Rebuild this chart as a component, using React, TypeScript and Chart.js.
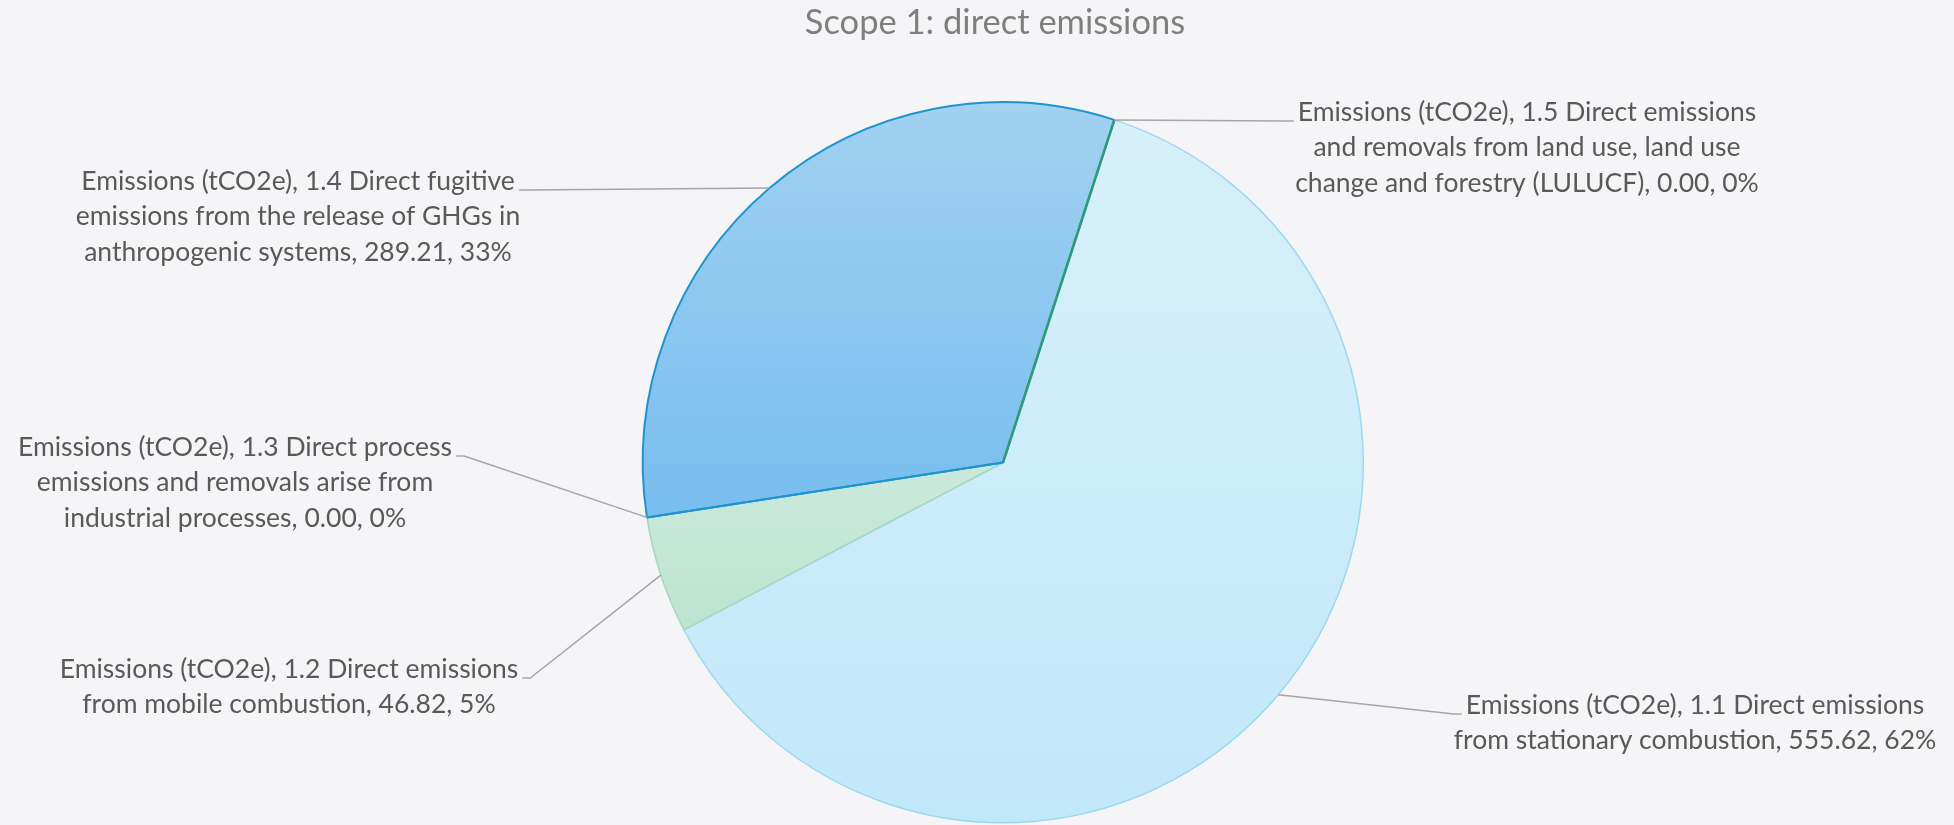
import React, { useEffect, useRef } from "react";
import { Chart, registerables } from "chart.js";

Chart.register(...registerables);

// ---------- data ----------
const TITLE = "Scope 1: direct emissions";
const SERIES_NAME = "Emissions (tCO2e)";
const CATEGORIES = [
  "1.1 Direct emissions from stationary combustion",
  "1.2 Direct emissions from mobile combustion",
  "1.3 Direct process emissions and removals arise from industrial processes",
  "1.4 Direct fugitive emissions from the release of GHGs in anthropogenic systems",
  "1.5 Direct emissions and removals from land use, land use change and forestry (LULUCF)",
];
const VALUES = [555.62, 46.82, 0.0, 289.21, 0.0];
const PERCENT_LABELS = [62, 5, 0, 33, 0];
const FIRST_SLICE_ANGLE = 18;

// ---------- styles ----------
const BG = "#f5f5f7";
const FILL_TOP = ["#d7f0fa", "#cbe9db", "#a2d1f1", "#a2d1f1", "#cbe9db"];
const FILL_BOTTOM = ["#c1e8f9", "#bde3d0", "#77bdee", "#77bdee", "#bde3d0"];
const BORDER = ["#9dd8f1", "#9fd9c1", "#1e95d0", "#1e95d0", "#2e9a76"];
const BORDER_W = [1.5, 1.5, 2, 2, 2.5];
const FONT = "Lato, 'Noto Sans', sans-serif";
const LABEL_SIZE = 26.5;
const LINE_H = 35.5;
const TITLE_SIZE = 34.5;

// label layout: text centre x, first line centre y, words per line, side of the pie
const LABEL_LAYOUT = [
  { cx: 1695, y: 705, words: [5], side: "right" },
  { cx: 289, y: 669, words: [5], side: "left" },
  { cx: 235, y: 447, words: [5, 5], side: "left" },
  { cx: 298, y: 181, words: [5, 7], side: "left" },
  { cx: 1527, y: 112, words: [5, 7], side: "right" },
];

function labelLines(i: number): string[] {
  const full = `${SERIES_NAME}, ${CATEGORIES[i]}, ${VALUES[i].toFixed(2)}, ${PERCENT_LABELS[i]}%`;
  const words = full.split(" ");
  const out: string[] = [];
  let p = 0;
  for (const n of LABEL_LAYOUT[i].words) {
    out.push(words.slice(p, p + n).join(" "));
    p += n;
  }
  if (p < words.length) out.push(words.slice(p).join(" "));
  return out;
}

function sliceGradient(context: any) {
  const i = context.dataIndex;
  const chart = context.chart;
  const area = chart.chartArea;
  if (!area) return FILL_BOTTOM[i];
  const cx = (area.left + area.right) / 2;
  const cy = (area.top + area.bottom) / 2;
  const r = Math.min(area.width, area.height) / 2;
  const total = VALUES.reduce((a, b) => a + b, 0);
  let start = FIRST_SLICE_ANGLE;
  for (let k = 0; k < i; k++) start += (360 * VALUES[k]) / total;
  const end = start + (360 * VALUES[i]) / total;
  const yAt = (deg: number) => cy - r * Math.cos((deg * Math.PI) / 180);
  const ys = [cy, yAt(start), yAt(end)];
  for (let m = Math.ceil(start / 180) * 180; m <= end; m += 180) ys.push(yAt(m));
  const top = Math.min(...ys);
  let bottom = Math.max(...ys);
  if (bottom - top < 1) bottom = top + 1;
  const g = chart.ctx.createLinearGradient(0, top, 0, bottom);
  g.addColorStop(0, FILL_TOP[i]);
  g.addColorStop(1, FILL_BOTTOM[i]);
  return g;
}

const overlayPlugin = {
  id: "overlay",
  afterDatasetsDraw(chart: any) {
    const ctx = chart.ctx;
    const meta = chart.getDatasetMeta(0);
    // zero-value slices are shown by their border line only
    meta.data.forEach((arc: any, i: number) => {
      if (VALUES[i] !== 0) return;
      const { x, y, startAngle, outerRadius } = arc.getProps(["x", "y", "startAngle", "outerRadius"], true);
      ctx.save();
      ctx.strokeStyle = BORDER[i];
      ctx.lineWidth = BORDER_W[i];
      ctx.beginPath();
      ctx.moveTo(x, y);
      ctx.lineTo(x + Math.cos(startAngle) * outerRadius, y + Math.sin(startAngle) * outerRadius);
      ctx.stroke();
      ctx.restore();
    });

    // data labels with leader lines
    ctx.save();
    ctx.font = `${LABEL_SIZE}px ${FONT}`;
    ctx.textBaseline = "middle";
    ctx.textAlign = "center";
    meta.data.forEach((arc: any, i: number) => {
      const lay = LABEL_LAYOUT[i];
      const lines = labelLines(i);
      const { x, y, startAngle, endAngle, outerRadius } = arc.getProps(
        ["x", "y", "startAngle", "endAngle", "outerRadius"],
        true
      );
      const mid = (startAngle + endAngle) / 2;
      const px = x + Math.cos(mid) * outerRadius;
      const py = y + Math.sin(mid) * outerRadius;
      const w0 = ctx.measureText(lines[0]).width;
      const ey = lay.y + 9;
      let ex: number, elx: number;
      if (lay.side === "right") {
        ex = lay.cx - w0 / 2 - 4;
        elx = ex - 8;
      } else {
        ex = lay.cx + w0 / 2 + 4;
        elx = ex + 8;
      }
      ctx.strokeStyle = "#a6a6a6";
      ctx.lineWidth = 1.5;
      ctx.beginPath();
      ctx.moveTo(px, py);
      ctx.lineTo(elx, ey);
      ctx.lineTo(ex, ey);
      ctx.stroke();
      ctx.fillStyle = "#595959";
      lines.forEach((ln, k) => ctx.fillText(ln, lay.cx, lay.y + k * LINE_H));
    });
    ctx.restore();

    // title
    ctx.save();
    ctx.font = `${TITLE_SIZE}px ${FONT}`;
    ctx.fillStyle = "#7f7f7f";
    ctx.textAlign = "center";
    ctx.textBaseline = "middle";
    ctx.fillText(TITLE, 995, 23);
    ctx.restore();
  },
};

export default function App() {
  const ref = useRef<HTMLCanvasElement | null>(null);
  useEffect(() => {
    if (!ref.current) return;
    const chart = new Chart(ref.current, {
      type: "pie",
      data: {
        labels: CATEGORIES,
        datasets: [
          {
            label: SERIES_NAME,
            data: VALUES,
            backgroundColor: sliceGradient as any,
            borderColor: BORDER,
            borderWidth: BORDER_W,
          },
        ],
      },
      options: {
        responsive: false,
        animation: false,
        devicePixelRatio: 1,
        rotation: FIRST_SLICE_ANGLE,
        layout: { padding: { left: 641, right: 589, top: 101, bottom: 1 } },
        plugins: {
          legend: { display: false },
          tooltip: { enabled: false },
          title: { display: false },
        },
      },
      plugins: [overlayPlugin],
    });
    return () => chart.destroy();
  }, []);
  return (
    <div style={{ position: "fixed", left: 0, top: 0, width: 1954, height: 825, background: BG }}>
      <canvas ref={ref} width={1954} height={825} style={{ display: "block", width: 1954, height: 825 }} />
    </div>
  );
}
